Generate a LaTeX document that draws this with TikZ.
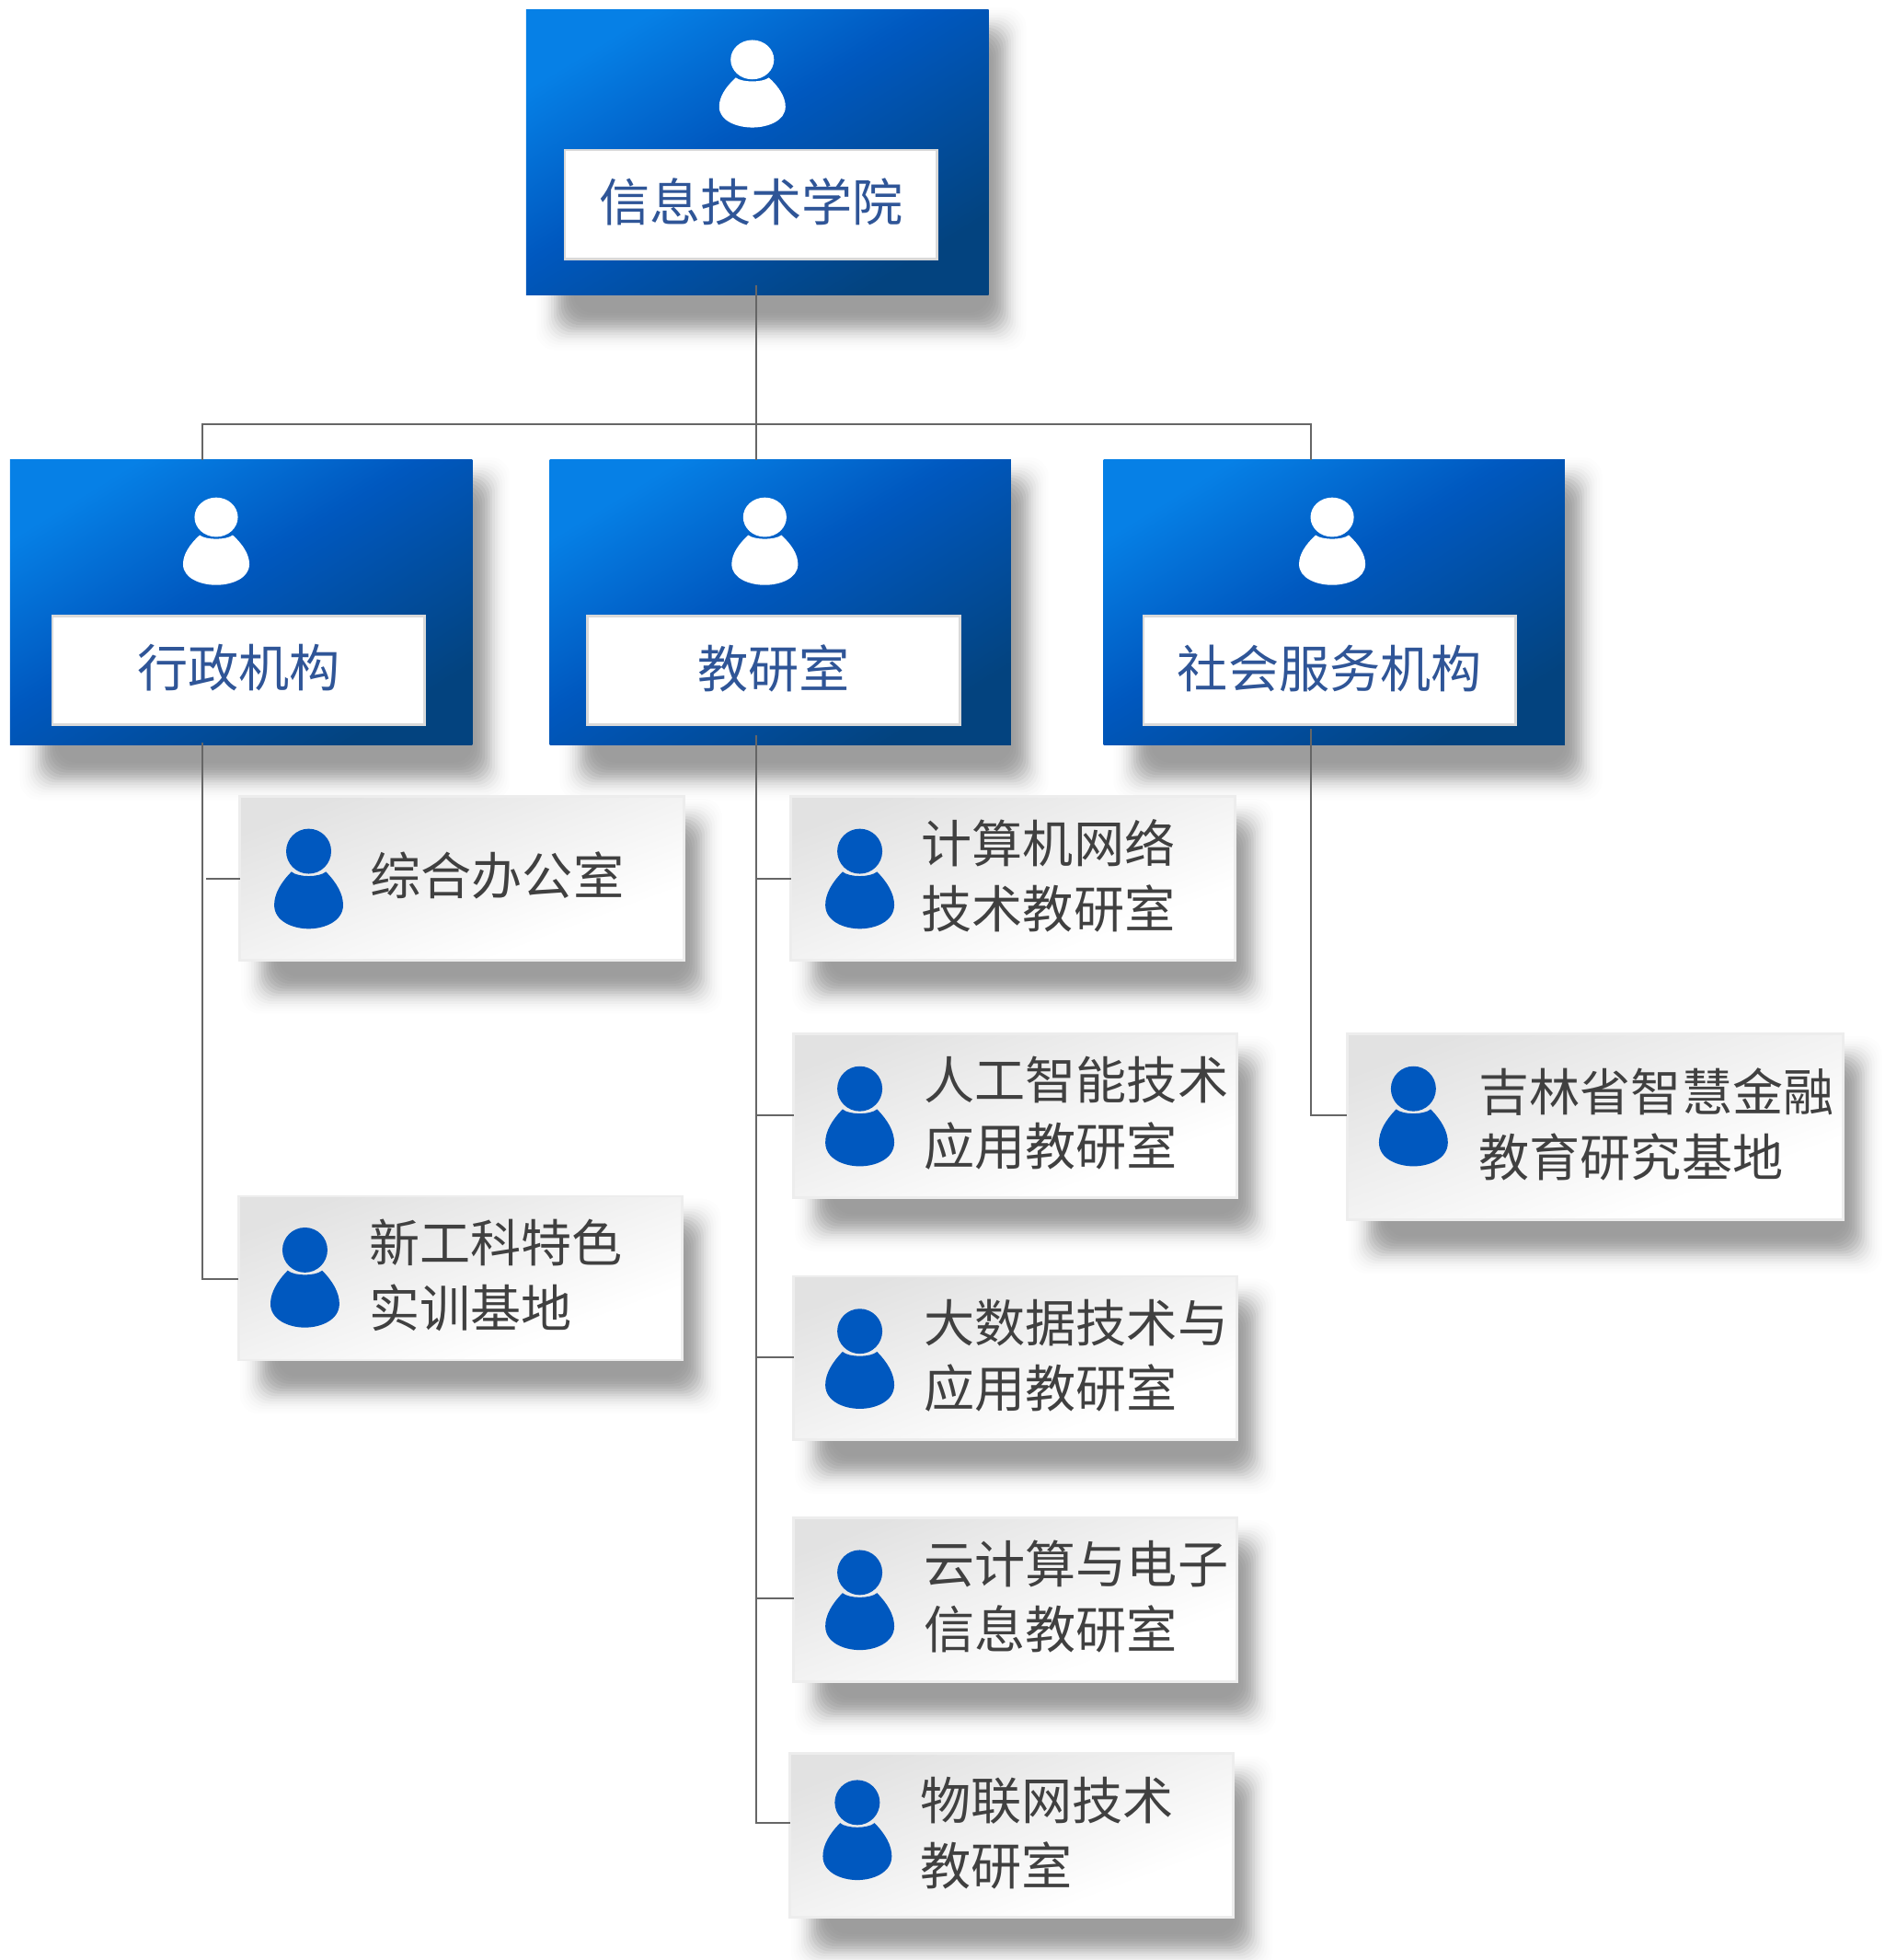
\documentclass[tikz,border=0pt]{standalone}
\usepackage{fontspec}
\setmainfont{Noto Sans CJK SC}
\definecolor{gradA}{HTML}{0680E6}
\definecolor{gradB}{HTML}{0058BF}
\definecolor{gradC}{HTML}{03437F}
\definecolor{iconblue}{HTML}{0058BF}
\definecolor{titleblue}{HTML}{2F5597}
\definecolor{leaftext}{HTML}{404040}
\definecolor{leafedge}{HTML}{EDEDED}
\definecolor{leafA}{HTML}{E2E2E2}
\definecolor{whiteedge}{HTML}{D9D9D9}
\definecolor{linegray}{HTML}{666666}
\pgfdeclareverticalshading{bluegrad}{100bp}{color(0bp)=(gradC); color(25bp)=(gradC); color(54bp)=(gradB); color(75bp)=(gradA); color(100bp)=(gradA)}
\pgfdeclareverticalshading{leafgrad}{100bp}{color(0bp)=(white); color(32bp)=(white); color(75bp)=(leafA); color(100bp)=(leafA)}
\tikzset{
  x=0.02cm,y=-0.02cm,
  bluebox/.style={anchor=north west,inner sep=0pt,outer sep=0pt,shading=bluegrad,shading angle=31.6},
  whitebox/.style={anchor=north west,inner sep=0pt,outer sep=0pt,fill=white,draw=whiteedge,line width=1.2pt,
    font=\fontsize{23.1pt}{29.8pt}\selectfont,text=titleblue},
  leafbox/.style={anchor=north west,inner sep=0pt,outer sep=0pt,shading=leafgrad,shading angle=20.5,draw=leafedge,line width=1.2pt},
  leaflabel/.style={anchor=west,inner sep=0pt,align=left,font=\fontsize{23.1pt}{29.8pt}\selectfont,text=leaftext},
  conn/.style={draw=linegray,line width=0.85pt},
}
% soft shadow: left top right bottom
\newcommand{\softshadow}[4]{%
  \foreach \ee/\oo in {22/.006,20/.008,18/.012,16/.016,14/.022,12/.03,10/.036,8/.044,6/.05,4/.05,2/.05,0/.045,-2/.04,-4/.03,-6/.02,-8/.015}{%
    \fill[black,opacity=\oo,rounded corners=0.3cm] ({#1-\ee},{#2-\ee}) rectangle ({#3+\ee},{#4+\ee});
  }}
% person icon: x, top y, x scale, y scale, colour
\newcommand{\personicon}[5]{%
  \begin{scope}[shift={(#1,#2)},xscale=#3,yscale=#4,#5]
    \fill (0,18) ellipse [x radius=17,y radius=18];
    \fill (-13,34.4) .. controls (-8,39) and (8,39) .. (13,34.4)
       .. controls (21,43) and (26,52) .. (26,61)
       .. controls (26,74) and (12,80) .. (0,80)
       .. controls (-12,80) and (-26,74) .. (-26,61)
       .. controls (-26,52) and (-21,43) .. (-13,34.4) -- cycle;
  \end{scope}}
% name, x1,y1,x2,y2
\newcommand{\bluenode}[5]{%
  \softshadow{#2+30}{#3+20}{#4+8}{#5+22}
  \pgfmathsetmacro\boxw{(#4-#2)*0.02}\pgfmathsetmacro\boxh{(#5-#3)*0.02}%
  \node[bluebox,minimum width=\boxw cm,minimum height=\boxh cm] (#1) at (#2,#3) {};}
% name, x1, y1, x2, y2, text
\newcommand{\whitenode}[6]{%
  \pgfmathsetmacro\boxw{(#4-#2-2)*0.02}\pgfmathsetmacro\boxh{(#5-#3-2)*0.02}%
  \node[whitebox,minimum width=\boxw cm,minimum height=\boxh cm] (#1) at ({#2+1},{#3+1}) {\raisebox{0.04cm}[\height][\depth]{#6}};}
% name, x1,y1,x2,y2, iconx, icony, textx, text
\newcommand{\leafnode}[9]{%
  \softshadow{#2+24}{#3+25}{#4+8}{#5+20}
  \pgfmathsetmacro\boxw{(#4-#2-2)*0.02}\pgfmathsetmacro\boxh{(#5-#3-2)*0.02}%
  \node[leafbox,minimum width=\boxw cm,minimum height=\boxh cm] (#1) at ({#2+1},{#3+1}) {};
  \personicon{#6}{#7}{1.06}{1}{iconblue}
  \node[leaflabel] (#1text) at ({#8-1},{(#3+#5)/2-2}) {#9};}
\begin{document}
\begin{tikzpicture}
\useasboundingbox (0,0) rectangle (1508,1568);
% top
\bluenode{top}{421}{8}{791}{236}
\personicon{602}{32}{1.02}{0.875}{white}
\whitenode{topw}{451}{119}{751}{208}{信息技术学院}
% level 2
\bluenode{adm}{8}{368}{378}{596}
\personicon{173}{398}{1.02}{0.875}{white}
\whitenode{admw}{41}{492}{341}{581}{行政机构}
\bluenode{edu}{440}{368}{809}{596}
\personicon{612}{398}{1.02}{0.875}{white}
\whitenode{eduw}{469}{492}{769}{581}{教研室}
\bluenode{soc}{883}{368}{1252}{596}
\personicon{1066}{398}{1.02}{0.875}{white}
\whitenode{socw}{914}{492}{1214}{581}{社会服务机构}
% leaves
\leafnode{a1}{191}{636}{548}{769}{247}{663}{297}{综合办公室}
\leafnode{a2}{190}{956}{547}{1089}{244}{982}{296}{新工科特色\\实训基地}
\leafnode{e1}{632}{636}{989}{769}{688}{663}{738}{计算机网络\\技术教研室}
\leafnode{e2}{634}{826}{991}{959}{688}{853}{740}{人工智能技术\\应用教研室}
\leafnode{e3}{634}{1020}{991}{1153}{688}{1047}{740}{大数据技术与\\应用教研室}
\leafnode{e4}{634}{1213}{991}{1346}{688}{1240}{740}{云计算与电子\\信息教研室}
\leafnode{e5}{631}{1402}{988}{1535}{686}{1424}{737}{物联网技术\\教研室}
\leafnode{s1}{1077}{826}{1476}{977}{1131}{853}{1184}{吉林省智慧金融\\教育研究基地}
% connector points
\coordinate (bus) at (605,339.5);
\coordinate (topout) at (605,228);
\coordinate (admdrop) at (162,594);
\coordinate (edudrop) at (605,588);
\coordinate (socdrop) at (1049,583);
\coordinate (admin) at (162,368);
\coordinate (eduin) at (605,368);
\coordinate (socin) at (1049,368);
\coordinate (a1stub) at (165,703);
\coordinate (a2stub) at (162,1023);
\coordinate (e1stub) at (605,703);
\coordinate (e2stub) at (605,892);
\coordinate (e3stub) at (605,1086);
\coordinate (e4stub) at (605,1279);
\coordinate (e5stub) at (605,1458);
\coordinate (s1stub) at (1049,892);
% connectors
\draw[conn] (topout) -- (eduin);
\draw[conn] (admin) |- (bus) -| (socin);
\draw[conn] (admdrop) -- (a2stub) -- (a2stub -| a2.west);
\draw[conn] (a1stub) -- (a1stub -| a1.west);
\draw[conn] (edudrop) -- (e5stub) -- (e5stub -| e5.west);
\draw[conn] (e1stub) -- (e1stub -| e1.west);
\draw[conn] (e2stub) -- (e2stub -| e2.west);
\draw[conn] (e3stub) -- (e3stub -| e3.west);
\draw[conn] (e4stub) -- (e4stub -| e4.west);
\draw[conn] (socdrop) -- (s1stub) -- (s1stub -| s1.west);
\end{tikzpicture}
\end{document}
